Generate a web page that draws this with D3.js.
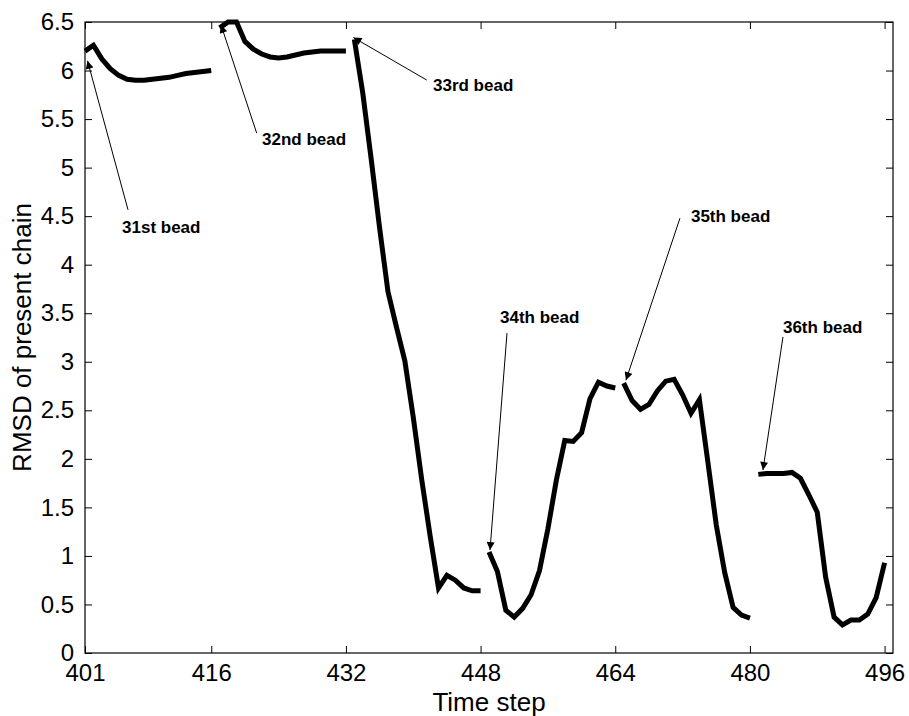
<!DOCTYPE html>
<html>
<head>
<meta charset="utf-8">
<script src="https://cdn.jsdelivr.net/npm/d3@7"></script>
<style>
  html, body { margin: 0; padding: 0; background: #fff; }
  svg { display: block; }
  text { font-family: "Liberation Sans", Arial, Helvetica, sans-serif; }
</style>
</head>
<body>
<script>
// ---------------- data ----------------
const beadLabels = ["31st bead", "32nd bead", "33rd bead", "34th bead", "35th bead", "36th bead"];
const beadStartSteps = [401, 417, 433, 449, 465, 481];

const rmsd31 = [6.20, 6.26, 6.12, 6.02, 5.95, 5.91, 5.90, 5.90, 5.91, 5.92, 5.93, 5.95, 5.97, 5.98, 5.99, 6.00];
const rmsd32 = [6.44, 6.50, 6.50, 6.30, 6.22, 6.17, 6.14, 6.13, 6.14, 6.16, 6.18, 6.19, 6.20, 6.20, 6.20, 6.20];
const rmsd33 = [6.32, 5.77, 5.09, 4.38, 3.72, 3.36, 3.01, 2.43, 1.79, 1.21, 0.67, 0.80, 0.75, 0.67, 0.64, 0.64];
const rmsd34 = [1.04, 0.84, 0.44, 0.37, 0.46, 0.60, 0.85, 1.28, 1.78, 2.19, 2.18, 2.27, 2.62, 2.79, 2.75, 2.73];
const rmsd35 = [2.78, 2.60, 2.51, 2.56, 2.70, 2.80, 2.82, 2.66, 2.47, 2.61, 1.97, 1.32, 0.83, 0.47, 0.39, 0.36];
const rmsd36 = [1.84, 1.85, 1.85, 1.85, 1.86, 1.80, 1.63, 1.45, 0.78, 0.37, 0.29, 0.34, 0.34, 0.40, 0.57, 0.93];
const beadSeries = [rmsd31, rmsd32, rmsd33, rmsd34, rmsd35, rmsd36];

const xTicks = [401, 416, 432, 448, 464, 480, 496];
const yTicks = [0, 0.5, 1, 1.5, 2, 2.5, 3, 3.5, 4, 4.5, 5, 5.5, 6, 6.5];

// annotation arrow tips in data units (step, rmsd)
const arrowTipStep = [401.3, 417.16, 432.9, 449.12, 465.27, 481.55];
const arrowTipValue = [6.10, 6.47, 6.34, 1.06, 2.81, 1.885];

// ---------------- layout / style ----------------
const W = 909, H = 716;
const M = { left: 85, top: 22, right: 909 - 893, bottom: 716 - 653 };
// pixel offsets from tip: [tailDx, tailDy, textDx, textDy]
const annOffsets = [
  [40.5, 149, 34.5, 172],
  [35.7, 108.3, 41, 120],
  [73.2, 42.5, 79.5, 53.5],
  [17, -217, 10, -227],
  [54, -162, 65, -158],
  [20, -133, 20, -137]
];

const svg = d3.select("body").append("svg").attr("width", W).attr("height", H);

const x = d3.scaleLinear().domain([401, 497]).range([M.left, W - M.right]);
const y = d3.scaleLinear().domain([0, 6.5]).range([H - M.bottom, M.top]);

svg.append("defs").append("marker")
  .attr("id", "ah").attr("viewBox", "0 0 10 10")
  .attr("refX", 10).attr("refY", 5)
  .attr("markerWidth", 10).attr("markerHeight", 8)
  .attr("markerUnits", "userSpaceOnUse")
  .attr("orient", "auto")
  .append("path").attr("d", "M0,0 L10,5 L0,10 Z").attr("fill", "#000");

const tickLen = 7;
const fontTick = "24px";

// Axes (bottom, top, left, right) with inward ticks
const gx = svg.append("g").attr("transform", `translate(0,${H - M.bottom})`)
  .call(d3.axisBottom(x).tickValues(xTicks).tickFormat(d3.format("d")).tickSizeInner(-tickLen).tickSizeOuter(0).tickPadding(tickLen + 4));
const gxt = svg.append("g").attr("transform", `translate(0,${M.top})`)
  .call(d3.axisTop(x).tickValues(xTicks).tickFormat("").tickSizeInner(-tickLen).tickSizeOuter(0));
const gy = svg.append("g").attr("transform", `translate(${M.left},0)`)
  .call(d3.axisLeft(y).tickValues(yTicks).tickFormat(d3.format("")).tickSizeInner(-tickLen).tickSizeOuter(0).tickPadding(tickLen + 4));
const gyr = svg.append("g").attr("transform", `translate(${W - M.right},0)`)
  .call(d3.axisRight(y).tickValues(yTicks).tickFormat("").tickSizeInner(-tickLen).tickSizeOuter(0));

[gx, gxt, gy, gyr].forEach(g => {
  g.select(".domain").remove();
  g.selectAll(".tick line").attr("stroke", "#000").attr("stroke-width", 1);
  g.selectAll(".tick text").attr("fill", "#000").style("font-size", fontTick)
    .style("font-family", "'Liberation Sans', Arial, sans-serif");
});
gx.selectAll(".tick text").attr("dy", "0.71em");
gy.selectAll(".tick text").attr("dx", "-0.0em");

// box
svg.append("rect")
  .attr("x", M.left).attr("y", M.top)
  .attr("width", W - M.left - M.right).attr("height", H - M.top - M.bottom)
  .attr("fill", "none").attr("stroke", "#000").attr("stroke-width", 1.2);

// lines
const line = d3.line().x(d => x(d[0])).y(d => y(d[1]));
beadSeries.forEach((vals, i) => {
  const pts = vals.map((v, j) => [beadStartSteps[i] + j, v]);
  svg.append("path").datum(pts)
    .attr("d", line)
    .attr("fill", "none").attr("stroke", "#000")
    .attr("stroke-width", 5).attr("stroke-linejoin", "miter").attr("stroke-miterlimit", 4);
});

// annotations
beadLabels.forEach((lab, i) => {
  const tx = x(arrowTipStep[i]), ty = y(arrowTipValue[i]);
  const o = annOffsets[i];
  svg.append("line")
    .attr("x1", tx + o[0]).attr("y1", ty + o[1])
    .attr("x2", tx).attr("y2", ty)
    .attr("stroke", "#000").attr("stroke-width", 1)
    .attr("marker-end", "url(#ah)");
  svg.append("text")
    .attr("x", tx + o[2]).attr("y", ty + o[3])
    .style("font-size", "17px").style("font-weight", "bold")
    .attr("fill", "#000").text(lab);
});

// axis titles
svg.append("text")
  .attr("x", (M.left + W - M.right) / 2).attr("y", 711)
  .attr("text-anchor", "middle").style("font-size", "26px").attr("fill", "#000")
  .text("Time step");
svg.append("text")
  .attr("transform", `translate(31,${(M.top + H - M.bottom) / 2}) rotate(-90)`)
  .attr("text-anchor", "middle").style("font-size", "26px").attr("fill", "#000")
  .text("RMSD of present chain");
</script>
</body>
</html>
